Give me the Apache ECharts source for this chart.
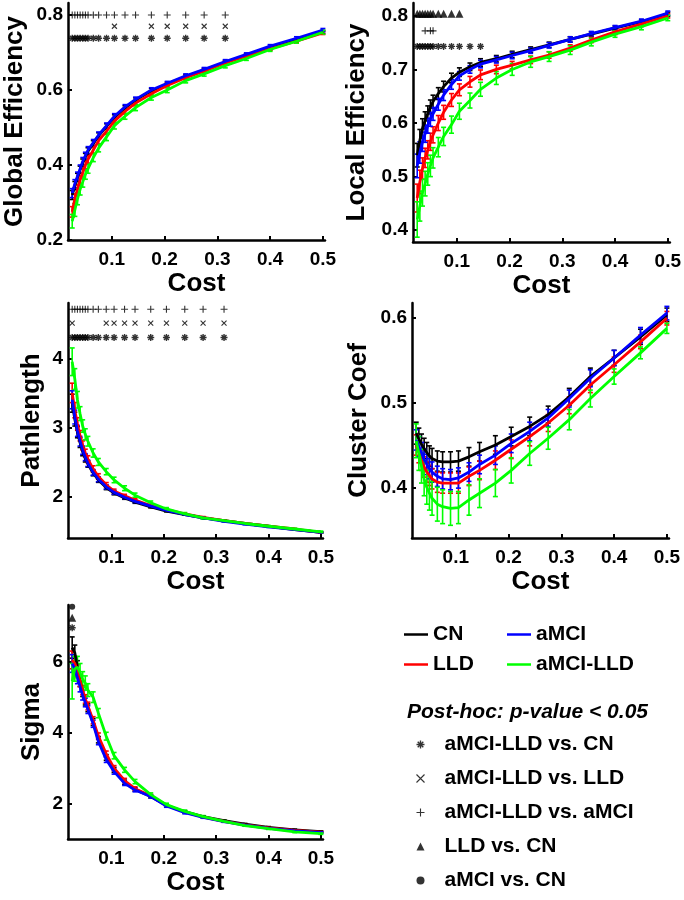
<!DOCTYPE html>
<html>
<head>
<meta charset="utf-8">
<script src="https://cdn.jsdelivr.net/npm/echarts@6/dist/echarts.min.js"></script>
<style>
  html, body { margin: 0; padding: 0; background: #fff; }
  #main { width: 684px; height: 900px; }
</style>
</head>
<body>
<div id="main"></div>
<script>
// network cost thresholds (x values)
var costs = [0.025, 0.03, 0.035, 0.04, 0.045, 0.05, 0.055, 0.065, 0.075, 0.09, 0.105,
             0.125, 0.145, 0.175, 0.205, 0.24, 0.275, 0.315, 0.355, 0.4, 0.45, 0.5];
var groups = ['CN', 'LLD', 'aMCI', 'aMCI-LLD'];
var groupColors = ['#000000', '#ff0000', '#0000ff', '#00ff00'];

// Global efficiency
var geCN    = [0.32, 0.345, 0.367, 0.387, 0.406, 0.422, 0.437, 0.457, 0.478, 0.503, 0.527, 0.552, 0.573, 0.598, 0.616, 0.636, 0.653, 0.674, 0.693, 0.712, 0.733, 0.755];
var geLLD   = [0.275, 0.31, 0.335, 0.36, 0.38, 0.40, 0.415, 0.44, 0.465, 0.49, 0.517, 0.543, 0.565, 0.59, 0.612, 0.633, 0.65, 0.672, 0.69, 0.71, 0.73, 0.752];
var geAMCI  = [0.325, 0.35, 0.37, 0.39, 0.41, 0.425, 0.44, 0.46, 0.48, 0.505, 0.53, 0.555, 0.575, 0.60, 0.618, 0.638, 0.655, 0.676, 0.695, 0.717, 0.738, 0.76];
var geBoth  = [0.25, 0.28, 0.31, 0.335, 0.355, 0.375, 0.39, 0.42, 0.445, 0.475, 0.505, 0.53, 0.553, 0.58, 0.60, 0.625, 0.643, 0.665, 0.684, 0.708, 0.73, 0.754];
var geErrCN   = [0.012, 0.011, 0.011, 0.010, 0.010, 0.009, 0.009, 0.008, 0.008, 0.007, 0.007, 0.006, 0.006, 0.006, 0.005, 0.005, 0.005, 0.005, 0.004, 0.004, 0.004, 0.004];
var geErrLLD  = [0.014, 0.013, 0.012, 0.011, 0.011, 0.010, 0.010, 0.009, 0.009, 0.008, 0.008, 0.007, 0.007, 0.006, 0.006, 0.006, 0.005, 0.005, 0.005, 0.004, 0.004, 0.004];
var geErrAMCI = [0.012, 0.011, 0.011, 0.010, 0.010, 0.009, 0.009, 0.008, 0.008, 0.007, 0.007, 0.006, 0.006, 0.006, 0.005, 0.005, 0.005, 0.005, 0.004, 0.004, 0.004, 0.004];
var geErrBoth = [0.018, 0.017, 0.016, 0.015, 0.014, 0.013, 0.012, 0.011, 0.010, 0.010, 0.009, 0.008, 0.008, 0.007, 0.007, 0.006, 0.006, 0.006, 0.005, 0.005, 0.005, 0.005];

// Local efficiency
var leCN    = [0.54, 0.568, 0.59, 0.605, 0.618, 0.63, 0.64, 0.655, 0.668, 0.684, 0.695, 0.705, 0.713, 0.72, 0.728, 0.737, 0.746, 0.756, 0.766, 0.777, 0.789, 0.803];
var leLLD   = [0.46, 0.49, 0.515, 0.535, 0.55, 0.565, 0.578, 0.60, 0.62, 0.643, 0.662, 0.677, 0.69, 0.70, 0.708, 0.718, 0.727, 0.74, 0.755, 0.77, 0.785, 0.80];
var leAMCI  = [0.52, 0.545, 0.565, 0.58, 0.595, 0.607, 0.617, 0.635, 0.652, 0.672, 0.688, 0.70, 0.71, 0.718, 0.726, 0.735, 0.745, 0.756, 0.767, 0.778, 0.79, 0.805];
var leBoth  = [0.42, 0.445, 0.47, 0.487, 0.505, 0.52, 0.535, 0.555, 0.575, 0.597, 0.622, 0.642, 0.663, 0.684, 0.70, 0.714, 0.724, 0.736, 0.751, 0.766, 0.78, 0.796];
var leErrCN   = [0.022, 0.020, 0.018, 0.016, 0.014, 0.013, 0.012, 0.011, 0.010, 0.009, 0.008, 0.007, 0.007, 0.006, 0.006, 0.005, 0.005, 0.005, 0.004, 0.004, 0.004, 0.004];
var leErrLLD  = [0.026, 0.022, 0.020, 0.018, 0.017, 0.016, 0.015, 0.014, 0.013, 0.012, 0.011, 0.010, 0.009, 0.008, 0.007, 0.007, 0.006, 0.006, 0.005, 0.005, 0.005, 0.004];
var leErrAMCI = [0.022, 0.020, 0.018, 0.016, 0.014, 0.013, 0.012, 0.011, 0.010, 0.009, 0.008, 0.007, 0.007, 0.006, 0.006, 0.005, 0.005, 0.005, 0.004, 0.004, 0.004, 0.004];
var leErrBoth = [0.033, 0.028, 0.025, 0.023, 0.021, 0.020, 0.019, 0.018, 0.017, 0.016, 0.015, 0.014, 0.013, 0.012, 0.011, 0.010, 0.009, 0.008, 0.007, 0.006, 0.006, 0.005];

// Path length
var plCN    = [3.35, 3.12, 2.93, 2.78, 2.65, 2.55, 2.47, 2.34, 2.24, 2.13, 2.05, 1.98, 1.92, 1.85, 1.79, 1.74, 1.69, 1.65, 1.61, 1.57, 1.52, 1.48];
var plLLD   = [3.5, 3.25, 3.05, 2.88, 2.74, 2.63, 2.54, 2.4, 2.29, 2.17, 2.08, 2.01, 1.95, 1.87, 1.81, 1.75, 1.7, 1.65, 1.61, 1.57, 1.53, 1.48];
var plAMCI  = [3.4, 3.15, 2.95, 2.8, 2.67, 2.57, 2.48, 2.35, 2.25, 2.14, 2.06, 1.99, 1.93, 1.86, 1.8, 1.74, 1.69, 1.64, 1.6, 1.56, 1.52, 1.48];
var plBoth  = [3.95, 3.7, 3.4, 3.2, 3.02, 2.9, 2.8, 2.63, 2.5, 2.36, 2.24, 2.12, 2.02, 1.91, 1.82, 1.75, 1.69, 1.65, 1.61, 1.57, 1.53, 1.49];
var plErrCN   = [0.13, 0.10, 0.08, 0.07, 0.06, 0.05, 0.045, 0.04, 0.035, 0.03, 0.025, 0.02, 0.018, 0.015, 0.012, 0.01, 0.01, 0.008, 0.008, 0.007, 0.007, 0.007];
var plErrLLD  = [0.14, 0.11, 0.09, 0.075, 0.065, 0.055, 0.05, 0.045, 0.04, 0.032, 0.027, 0.022, 0.02, 0.016, 0.013, 0.011, 0.01, 0.009, 0.008, 0.007, 0.007, 0.007];
var plErrAMCI = [0.13, 0.10, 0.08, 0.07, 0.06, 0.05, 0.045, 0.04, 0.035, 0.03, 0.025, 0.02, 0.018, 0.015, 0.012, 0.01, 0.01, 0.008, 0.008, 0.007, 0.007, 0.007];
var plErrBoth = [0.2, 0.15, 0.12, 0.1, 0.09, 0.08, 0.07, 0.06, 0.05, 0.045, 0.04, 0.035, 0.03, 0.025, 0.02, 0.018, 0.015, 0.012, 0.01, 0.01, 0.01, 0.01];

// Clustering coefficient
var ccCN    = [0.464, 0.457, 0.451, 0.446, 0.441, 0.437, 0.434, 0.431, 0.43, 0.43, 0.431, 0.436, 0.442, 0.45, 0.46, 0.472, 0.486, 0.507, 0.531, 0.553, 0.578, 0.604];
var ccLLD   = [0.45, 0.441, 0.432, 0.424, 0.418, 0.414, 0.41, 0.406, 0.405, 0.405, 0.405, 0.413, 0.42, 0.432, 0.445, 0.46, 0.476, 0.497, 0.521, 0.545, 0.572, 0.6];
var ccAMCI  = [0.456, 0.448, 0.441, 0.433, 0.427, 0.422, 0.418, 0.413, 0.41, 0.409, 0.411, 0.418, 0.427, 0.438, 0.452, 0.466, 0.482, 0.505, 0.529, 0.553, 0.58, 0.606];
var ccBoth  = [0.455, 0.44, 0.425, 0.41, 0.40, 0.393, 0.387, 0.38, 0.377, 0.375, 0.376, 0.385, 0.393, 0.405, 0.42, 0.44, 0.458, 0.48, 0.505, 0.531, 0.559, 0.588];
var ccErrCN   = [0.013, 0.013, 0.012, 0.012, 0.012, 0.012, 0.012, 0.012, 0.012, 0.012, 0.012, 0.011, 0.011, 0.011, 0.011, 0.011, 0.010, 0.010, 0.010, 0.009, 0.009, 0.008];
var ccErrLLD  = [0.012, 0.012, 0.012, 0.012, 0.012, 0.012, 0.012, 0.012, 0.012, 0.012, 0.012, 0.011, 0.011, 0.011, 0.011, 0.011, 0.010, 0.010, 0.009, 0.009, 0.008, 0.008];
var ccErrAMCI = [0.012, 0.012, 0.012, 0.012, 0.012, 0.012, 0.012, 0.012, 0.012, 0.012, 0.012, 0.011, 0.011, 0.011, 0.011, 0.011, 0.010, 0.010, 0.010, 0.009, 0.009, 0.008];
var ccErrBoth = [0.020, 0.020, 0.020, 0.020, 0.020, 0.020, 0.020, 0.020, 0.020, 0.020, 0.019, 0.018, 0.017, 0.016, 0.015, 0.014, 0.013, 0.012, 0.010, 0.009, 0.007, 0.006];

// Small-worldness sigma
var sgCN    = [6.4, 6.25, 5.85, 5.45, 5.15, 4.9, 4.7, 4.3, 3.8, 3.3, 2.95, 2.6, 2.4, 2.2, 1.95, 1.77, 1.63, 1.52, 1.42, 1.33, 1.26, 1.21];
var sgLLD   = [6.05, 5.95, 5.75, 5.45, 5.2, 4.95, 4.75, 4.35, 3.9, 3.4, 3.0, 2.65, 2.42, 2.22, 1.95, 1.76, 1.62, 1.5, 1.4, 1.31, 1.24, 1.19];
var sgAMCI  = [5.95, 5.8, 5.55, 5.3, 5.05, 4.85, 4.65, 4.25, 3.75, 3.24, 2.9, 2.57, 2.38, 2.2, 1.93, 1.74, 1.61, 1.49, 1.39, 1.3, 1.23, 1.18];
var sgBoth  = [5.45, 5.8, 5.85, 5.7, 5.5, 5.4, 5.2, 5.0, 4.55, 3.9, 3.35, 2.95, 2.62, 2.25, 1.97, 1.78, 1.63, 1.5, 1.38, 1.29, 1.2, 1.15];
var sgErrCN   = [0.30, 0.22, 0.18, 0.15, 0.13, 0.12, 0.11, 0.10, 0.09, 0.08, 0.07, 0.06, 0.05, 0.04, 0.035, 0.03, 0.025, 0.02, 0.02, 0.02, 0.02, 0.02];
var sgErrLLD  = [0.25, 0.2, 0.17, 0.15, 0.13, 0.12, 0.11, 0.10, 0.09, 0.08, 0.07, 0.06, 0.05, 0.04, 0.035, 0.03, 0.025, 0.02, 0.02, 0.02, 0.02, 0.02];
var sgErrAMCI = [0.25, 0.2, 0.17, 0.15, 0.13, 0.12, 0.11, 0.10, 0.09, 0.08, 0.07, 0.06, 0.05, 0.04, 0.035, 0.03, 0.025, 0.02, 0.02, 0.02, 0.02, 0.02];
var sgErrBoth = [0.5, 0.35, 0.3, 0.25, 0.22, 0.2, 0.18, 0.15, 0.13, 0.11, 0.09, 0.07, 0.06, 0.05, 0.04, 0.035, 0.03, 0.025, 0.02, 0.02, 0.02, 0.02];

// post-hoc significant costs
var geSigStar  = [0.025, 0.03, 0.035, 0.04, 0.045, 0.05, 0.055, 0.065, 0.075, 0.09, 0.105, 0.125, 0.145, 0.175, 0.205, 0.24, 0.275, 0.315];
var geSigCross = [0.105, 0.175, 0.205, 0.24, 0.275, 0.315];
var geSigPlus  = [0.025, 0.03, 0.035, 0.04, 0.045, 0.05, 0.055, 0.065, 0.075, 0.09, 0.105, 0.125, 0.145, 0.175, 0.205, 0.24, 0.275, 0.315];
var leSigTri   = [0.025, 0.03, 0.035, 0.04, 0.045, 0.05, 0.055, 0.065, 0.075, 0.09, 0.105];
var leSigPlus  = [0.04, 0.05, 0.055];
var leSigStar  = [0.025, 0.03, 0.035, 0.04, 0.045, 0.05, 0.055, 0.065, 0.075, 0.09, 0.105, 0.125, 0.145];
var plSigPlus  = [0.025, 0.03, 0.035, 0.04, 0.045, 0.05, 0.055, 0.065, 0.075, 0.09, 0.105, 0.125, 0.145, 0.175, 0.205, 0.24, 0.275, 0.315];
var plSigCross = [0.025, 0.09, 0.105, 0.125, 0.145, 0.175, 0.205, 0.24, 0.275, 0.315];
var plSigStar  = [0.025, 0.03, 0.035, 0.04, 0.045, 0.05, 0.055, 0.065, 0.075, 0.09, 0.105, 0.125, 0.145, 0.175, 0.205, 0.24, 0.275, 0.315];
var sgSigStar  = [0.025];
var sgSigTri   = [0.025];
var sgSigDot   = [0.025];

var xTicks = [0.1, 0.2, 0.3, 0.4, 0.5];
var sigNames = ['aMCI-LLD vs. CN', 'aMCI-LLD vs. LLD', 'aMCI-LLD vs. aMCI', 'LLD vs. CN', 'aMCI vs. CN'];

var FONT = "'Liberation Sans', Arial, Helvetica, sans-serif";
var SYM_STAR  = 'path://M5,0L5,10M0,5L10,5M1.5,1.5L8.5,8.5M8.5,1.5L1.5,8.5';
var SYM_CROSS = 'path://M0,0L10,10M10,0L0,10';
var SYM_PLUS  = 'path://M5,0L5,10M0,5L10,5';

var panels = [
  { title: 'Global Efficiency', grid: { left: 68, top: 3, width: 257, height: 237 }, ymin: 0.2, ymax: 0.832,
    yTicks: [0.2, 0.4, 0.6, 0.8], nameGap: 40,
    means: [geCN, geLLD, geAMCI, geBoth], errs: [geErrCN, geErrLLD, geErrAMCI, geErrBoth],
    sig: [[0, geSigStar, 0.738], [1, geSigCross, 0.77], [2, geSigPlus, 0.8]] },
  { title: 'Local Efficiency', grid: { left: 413, top: 3, width: 257, height: 239 }, ymin: 0.378, ymax: 0.824,
    yTicks: [0.4, 0.5, 0.6, 0.7, 0.8], nameGap: 43,
    means: [leCN, leLLD, leAMCI, leBoth], errs: [leErrCN, leErrLLD, leErrAMCI, leErrBoth],
    sig: [[0, leSigStar, 0.743], [2, leSigPlus, 0.772], [3, leSigTri, 0.804]] },
  { title: 'Pathlength', grid: { left: 68, top: 303, width: 255, height: 235 }, ymin: 1.4, ymax: 4.8,
    yTicks: [2, 3, 4], nameGap: 23,
    means: [plCN, plLLD, plAMCI, plBoth], errs: [plErrCN, plErrLLD, plErrAMCI, plErrBoth],
    sig: [[0, plSigStar, 4.30], [1, plSigCross, 4.51], [2, plSigPlus, 4.71]] },
  { title: 'Cluster Coef', grid: { left: 412, top: 303, width: 257, height: 235 }, ymin: 0.34, ymax: 0.618,
    yTicks: [0.4, 0.5, 0.6], nameGap: 40,
    means: [ccCN, ccLLD, ccAMCI, ccBoth], errs: [ccErrCN, ccErrLLD, ccErrAMCI, ccErrBoth],
    sig: [] },
  { title: 'Sigma', grid: { left: 68, top: 605, width: 255, height: 234 }, ymin: 1.0, ymax: 7.6,
    yTicks: [2, 4, 6], nameGap: 23,
    means: [sgCN, sgLLD, sgAMCI, sgBoth], errs: [sgErrCN, sgErrLLD, sgErrAMCI, sgErrBoth],
    sig: [[0, sgSigStar, 6.96], [3, sgSigTri, 7.24], [4, sgSigDot, 7.55]] }
];

// marker look for each post-hoc comparison
var sigStyles = [
  { symbol: SYM_STAR,  size: 7, itemStyle: { color: 'none', borderColor: '#000', borderWidth: 1.4 } },
  { symbol: SYM_CROSS, size: 5, itemStyle: { color: 'none', borderColor: '#000', borderWidth: 1.1 } },
  { symbol: SYM_PLUS,  size: 7, itemStyle: { color: 'none', borderColor: '#000', borderWidth: 1.1 } },
  { symbol: 'triangle', size: 8, itemStyle: { color: '#000' } },
  { symbol: 'circle',   size: 6, itemStyle: { color: '#000' } }
];

function errBars(gi, k, means, errs) {
  var color = groupColors[k];
  return {
    type: 'custom', name: groups[k] + ' err', xAxisIndex: gi, yAxisIndex: gi,
    silent: true, z: 2,
    data: costs.map(function (c, i) { return [c, means[i] - errs[i], means[i] + errs[i]]; }),
    encode: { x: 0, y: [1, 2] },
    renderItem: function (params, api) {
      var lo = api.coord([api.value(0), api.value(1)]);
      var hi = api.coord([api.value(0), api.value(2)]);
      var hw = 2.5;
      var st = { stroke: color, lineWidth: 1.6 };
      return { type: 'group', children: [
        { type: 'line', shape: { x1: lo[0], y1: lo[1], x2: hi[0], y2: hi[1] }, style: st },
        { type: 'line', shape: { x1: lo[0] - hw, y1: lo[1], x2: lo[0] + hw, y2: lo[1] }, style: st },
        { type: 'line', shape: { x1: hi[0] - hw, y1: hi[1], x2: hi[0] + hw, y2: hi[1] }, style: st }
      ] };
    }
  };
}

var grids = [], xAxes = [], yAxes = [], series = [];
panels.forEach(function (p, gi) {
  grids.push(p.grid);
  xAxes.push({
    type: 'value', gridIndex: gi, min: 0.017, max: 0.504,
    name: 'Cost', nameLocation: 'middle', nameGap: 31,
    nameTextStyle: { fontFamily: FONT, fontSize: 26, fontWeight: 'bold', color: '#000' },
    axisLine: { onZero: false, lineStyle: { color: '#000', width: 2.5 } },
    axisTick: { inside: true, length: 4, lineStyle: { width: 2 }, customValues: xTicks },
    axisLabel: { customValues: xTicks, margin: 10, fontFamily: FONT, fontSize: 19, fontWeight: 'bold', color: '#000' },
    splitLine: { show: false }
  });
  yAxes.push({
    type: 'value', gridIndex: gi, min: p.ymin, max: p.ymax,
    name: p.title, nameLocation: 'middle', nameGap: p.nameGap,
    nameTextStyle: { fontFamily: FONT, fontSize: 26, fontWeight: 'bold', color: '#000' },
    axisLine: { show: true, onZero: false, lineStyle: { color: '#000', width: 2.5 } },
    axisTick: { show: true, inside: true, length: 4, lineStyle: { width: 2 }, customValues: p.yTicks },
    axisLabel: { customValues: p.yTicks, margin: 5, fontFamily: FONT, fontSize: 19, fontWeight: 'bold', color: '#000' },
    splitLine: { show: false }
  });
  for (var k = 0; k < 4; k++) {
    series.push(errBars(gi, k, p.means[k], p.errs[k]));
  }
  for (var k2 = 0; k2 < 4; k2++) {
    series.push({
      type: 'line', name: groups[k2], xAxisIndex: gi, yAxisIndex: gi, z: 3,
      symbol: 'none', smooth: false,
      lineStyle: { color: groupColors[k2], width: 2.8 }, itemStyle: { color: groupColors[k2] },
      data: costs.map(function (c, i) { return [c, p.means[k2][i]]; })
    });
  }
  p.sig.forEach(function (s) {
    var st = sigStyles[s[0]];
    series.push({
      type: 'scatter', name: sigNames[s[0]], xAxisIndex: gi, yAxisIndex: gi, z: 4,
      symbol: st.symbol, symbolSize: st.size, itemStyle: st.itemStyle,
      data: s[1].map(function (c) { return [c, s[2]]; })
    });
  });
});

var legendText = { fontFamily: FONT, fontSize: 21, fontWeight: 'bold', color: '#000' };
function lineItem(name, k) {
  return { name: name, icon: 'rect', itemStyle: { color: groupColors[k] } };
}
var chart = echarts.init(document.getElementById('main'), null, { renderer: 'canvas' });
chart.setOption({
  animation: false,
  backgroundColor: '#fff',
  title: {
    text: 'Post-hoc: p-value < 0.05', left: 402, top: 697,
    textStyle: { fontFamily: FONT, fontSize: 21, fontWeight: 'bold', fontStyle: 'italic', color: '#000' }
  },
  legend: [
    { data: [lineItem('CN', 0), lineItem('LLD', 1)], orient: 'vertical', left: 399, top: 619,
      itemWidth: 24, itemHeight: 2.5, itemGap: 9, textStyle: legendText, selectedMode: false },
    { data: [lineItem('aMCI', 2), lineItem('aMCI-LLD', 3)], orient: 'vertical', left: 502, top: 619,
      itemWidth: 24, itemHeight: 2.5, itemGap: 9, textStyle: legendText, selectedMode: false },
    { data: sigNames.map(function (n, i) {
        return { name: n, icon: sigStyles[i].symbol, itemStyle: sigStyles[i].itemStyle };
      }),
      orient: 'vertical', left: 409, top: 729, itemWidth: 8, itemHeight: 8, itemGap: 13,
      textStyle: Object.assign({ padding: [0, 0, 0, 15] }, legendText), selectedMode: false }
  ],
  grid: grids,
  xAxis: xAxes,
  yAxis: yAxes,
  series: series
});
</script>
</body>
</html>
